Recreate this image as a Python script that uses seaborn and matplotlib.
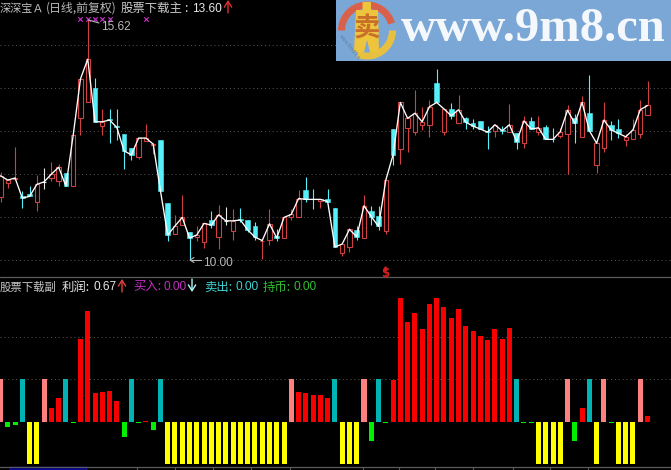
"""
plot.py
Stock chart: daily candles with close line on top, profit histogram below.
"""

import numpy as np
import pandas as pd
import matplotlib
matplotlib.use("Agg")
import matplotlib.pyplot as plt
from matplotlib.patches import Polygon, Rectangle, Wedge
import seaborn as sns

# ── Data: candles ──────────────────────────────────────────────────────────
opens = [11.46, 11.79, 11.88, 11.50, 11.54, 11.35, 11.82, 11.92, 11.85, 12.02,
         11.73, 13.30, 13.69, 14.01, 13.12, 13.28, 13.12, 12.94, 12.60, 12.41,
         12.77, 12.67, 12.80, 11.32, 10.61, 10.81, 10.66, 10.53, 10.42, 10.93,
         10.53, 10.91, 10.67, 10.96, 10.93, 10.79, 10.43, 10.46, 10.56, 10.50,
         10.99, 11.01, 11.63, 11.42, 11.37, 11.42, 11.21, 10.17, 10.30, 10.69,
         10.52, 11.15, 11.03, 10.68, 13.05, 12.58, 13.08, 12.99, 13.15, 13.15,
         14.13, 12.99, 13.52, 13.20, 13.30, 13.19, 13.23, 13.01, 13.00, 13.03,
         12.99, 12.95, 12.73, 13.23, 12.97, 13.09, 12.82, 12.88, 12.94, 13.30,
         12.86, 13.43, 12.21, 12.62, 13.14, 13.05, 12.79, 12.82, 12.93, 13.37]
highs = [12.05, 11.86, 12.63, 11.61, 11.72, 11.97, 12.15, 12.28, 12.24, 12.03,
         12.91, 14.22, 15.62, 14.24, 13.51, 13.51, 13.51, 12.94, 12.60, 12.84,
         13.17, 12.72, 12.80, 11.32, 11.05, 11.51, 10.66, 10.78, 10.85, 11.15,
         11.28, 11.23, 11.19, 11.20, 10.93, 10.89, 10.47, 11.19, 10.71, 10.99,
         11.18, 11.63, 11.93, 11.65, 11.41, 11.65, 11.21, 10.37, 10.75, 10.79,
         11.51, 11.26, 11.26, 11.86, 13.05, 13.67, 13.30, 13.96, 13.57, 13.73,
         14.45, 13.52, 13.65, 13.85, 13.34, 13.28, 13.23, 13.11, 13.17, 13.13,
         13.63, 12.95, 13.36, 13.33, 13.36, 13.15, 13.07, 13.08, 13.61, 13.40,
         13.82, 14.30, 12.72, 13.68, 13.24, 13.29, 12.94, 13.29, 13.72, 14.17]
lows = [11.35, 11.67, 11.86, 11.22, 11.48, 11.14, 11.65, 11.84, 11.73, 11.72,
        11.73, 12.91, 13.69, 13.22, 12.91, 12.72, 12.80, 12.13, 12.33, 12.35,
        12.77, 12.46, 11.61, 10.45, 10.61, 10.81, 10.00, 10.43, 10.28, 10.75,
        10.26, 10.82, 10.47, 10.89, 10.66, 10.47, 10.02, 10.35, 10.43, 10.50,
        10.92, 11.01, 11.36, 11.19, 11.21, 11.36, 10.30, 10.09, 10.19, 10.47,
        10.52, 10.82, 10.70, 10.61, 12.21, 12.24, 12.52, 12.91, 13.03, 12.87,
        13.67, 12.91, 13.29, 13.20, 13.05, 13.05, 13.05, 12.58, 12.86, 12.94,
        12.99, 12.59, 12.60, 13.05, 12.91, 12.81, 12.76, 12.85, 12.00, 12.73,
        12.86, 13.01, 12.02, 12.52, 12.80, 12.85, 12.66, 12.82, 12.85, 13.37]
closes = [11.96, 11.86, 11.91, 11.44, 11.48, 11.76, 11.82, 12.00, 12.16, 11.72,
          12.91, 14.22, 14.68, 13.22, 13.22, 13.26, 13.09, 12.54, 12.45, 12.84,
          12.84, 12.70, 11.61, 10.58, 10.79, 10.99, 10.51, 10.58, 10.85, 10.81,
          11.05, 10.91, 10.91, 10.93, 10.70, 10.53, 10.45, 10.84, 10.51, 10.99,
          11.06, 11.43, 11.41, 11.41, 11.41, 11.36, 10.30, 10.37, 10.71, 10.54,
          11.26, 11.01, 10.78, 11.86, 12.45, 13.67, 13.30, 13.42, 13.22, 13.57,
          13.67, 13.52, 13.36, 13.50, 13.21, 13.12, 13.05, 12.98, 13.15, 13.01,
          13.15, 12.76, 13.24, 13.05, 13.08, 12.81, 12.81, 12.99, 13.49, 13.18,
          13.67, 13.01, 12.72, 13.26, 13.03, 12.95, 12.87, 13.03, 13.50, 13.60]
signal_days = [11, 12, 13, 14, 15, 20]
signal_price = [15.61, 15.61, 15.61, 15.61, 15.61, 15.61]
grid_prices = [10, 11, 12, 13, 14, 15]

# ── Data: profit histogram ─────────────────────────────────────────────────
profit = [5, -0.6, -0.4, 5, -5, -5, 5, 1.6, 2.8, 5,
          -0.1, 9.8, 13.1, 3.4, 3.5, 3.6, 2.4, -1.8, 5, -0.1,
          0.1, -1.0, 5, -5, -5, -5, -5, -5, -5, -5,
          -5, -5, -5, -5, -5, -5, -5, -5, -5, -5,
          5, 3.5, 3.4, 3.2, 3.2, 2.8, 5, -5, -5, -5,
          5, -2.25, 5, -0.1, 4.9, 14.6, 11.8, 12.85, 11, 13.9,
          14.6, 13.55, 12.3, 13.3, 11.3, 10.75, 10.15, 9.7, 11, 9.8,
          11.1, 5, -0.1, -0.1, -5, -5, -5, -5, 5, -2.25,
          1.6, 5, -5, 5, -0.1, -5, -5, -5, 5, 0.67]
profit_kind = ["pink", "green", "green", "teal", "yellow", "yellow", "pink", "red", "red", "teal",
               "green", "red", "red", "red", "red", "red", "red", "green", "teal", "green",
               "red", "green", "teal", "yellow", "yellow", "yellow", "yellow", "yellow", "yellow", "yellow",
               "yellow", "yellow", "yellow", "yellow", "yellow", "yellow", "yellow", "yellow", "yellow", "yellow",
               "pink", "red", "red", "red", "red", "red", "teal", "yellow", "yellow", "yellow",
               "pink", "green", "teal", "green", "red", "red", "red", "red", "red", "red",
               "red", "red", "red", "red", "red", "red", "red", "red", "red", "red",
               "red", "teal", "green", "green", "yellow", "yellow", "yellow", "yellow", "pink", "green",
               "red", "teal", "yellow", "pink", "green", "yellow", "yellow", "yellow", "pink", "red"]
grid_profit = [5, 10]

PALETTE = {
    "pink": "#FF8080",
    "green": "#00F000",
    "teal": "#00B4B4",
    "yellow": "#FFFF00",
    "red": "#F80000",
}
UP = "#D04040"
DOWN = "#55F0FA"
GREY = "#B8B8B8"
CJK = ["Noto Sans CJK SC", "DejaVu Sans"]

W, H = 671, 470
sns.set_theme(style="dark", rc={
    "figure.facecolor": "black",
    "axes.facecolor": "black",
    "savefig.facecolor": "black",
})
plt.rcParams["font.family"] = CJK

days = np.arange(len(closes))
candles = pd.DataFrame({"day": days, "open": opens, "high": highs,
                        "low": lows, "close": closes})
hist = pd.DataFrame({"day": days, "profit": profit, "kind": profit_kind})

fig = plt.figure(figsize=(W / 100, H / 100), dpi=100)
ax = fig.add_axes([0, (H - 277) / H, 1, 277 / H])
ax2 = fig.add_axes([0, (H - 467) / H, 1, 190 / H])
over = fig.add_axes([0, 0, 1, 1], facecolor="none")

# ── Candles ────────────────────────────────────────────────────────────────
for val in grid_prices:
    ax.axhline(val, color="#585858", lw=0.7, ls=(0, (1, 3)), zorder=1)

rising = candles[candles["close"] > candles["open"]]
falling = candles[candles["close"] < candles["open"]]
flat = candles[candles["close"] == candles["open"]]

ax.vlines(rising["day"], rising["low"], rising["high"], color=UP, lw=0.8, zorder=2)
ax.vlines(falling["day"], falling["low"], falling["high"], color=DOWN, lw=0.8, zorder=2)
ax.vlines(flat["day"], flat["low"], flat["high"], color="#E8E8E8", lw=0.8, zorder=2)
ax.bar(rising["day"], rising["close"] - rising["open"], bottom=rising["open"],
       width=0.6, facecolor="black", edgecolor=UP, linewidth=0.8, zorder=3)
ax.bar(falling["day"], falling["close"] - falling["open"], bottom=falling["open"],
       width=0.66, facecolor=DOWN, edgecolor=DOWN, linewidth=0.4, zorder=3)
ax.hlines(flat["close"], flat["day"] - 0.3, flat["day"] + 0.3, color="#E8E8E8", lw=0.8, zorder=3)

sns.lineplot(data=candles, x="day", y="close", color="white", lw=0.95,
             errorbar=None, ax=ax, zorder=4)
sns.scatterplot(x=signal_days, y=signal_price, marker="x", s=10, color="#D030D0",
                linewidth=0.8, ax=ax, zorder=5)

# ── Histogram ──────────────────────────────────────────────────────────────
for val in grid_profit:
    ax2.axhline(val, color="#585858", lw=0.7, ls=(0, (1, 3)), zorder=0)
sns.barplot(data=hist, x="day", y="profit", hue="kind", palette=PALETTE,
            native_scale=True, dodge=False, width=0.69, linewidth=0, saturation=1,
            errorbar=None, legend=False, ax=ax2, zorder=2)

for a in (ax, ax2):
    a.set_xlim(-0.07, 92.23)
    a.set_xlabel("")
    a.set_ylabel("")
    a.set_xticks([])
    a.set_yticks([])
    a.grid(False)
    for s in a.spines.values():
        s.set_visible(False)
ax.set_ylim(9.6, 16.06)
ax2.set_ylim(-5.36, 17.12)

# ── Overlay in pixel coordinates: texts, arrows, frame lines, banner ───────
over.set_xlim(0, W)
over.set_ylim(H, 0)
over.axis("off")


def label(x, y, s, color="#C8C8C8", size=8.9, **kw):
    kw.setdefault("family", CJK)
    over.text(x, y, s, color=color, fontsize=size, va="baseline", ha="left", **kw)


def number(x, y, s, color):
    label(x, y, s, color=color, size=8.6, family="Liberation Sans")


def arrow(x, y0, y1, color):
    over.annotate("", xy=(x, y1), xytext=(x, y0),
                  arrowprops=dict(arrowstyle="->,head_width=0.22,head_length=0.35",
                                  color=color, lw=1.0, shrinkA=0, shrinkB=0))


# header of the price panel
label(0, 12, "深深宝Ａ", color="#C0C0C0", size=8.0)
label(46, 12, "(日线,前复权)", color="#B8B8B8", size=8.6)
label(121, 12, "股票下载主", color="#C8C8C8")
label(184, 12, ":", color="#E8E8E8")
number(192, 12, "13.60", "#E8E8E8")
arrow(228, 13, 0, "#E03030")

# header of the histogram panel
label(0, 290.5, "股票下载副", color="#C8C8C8", size=8.2)
label(62, 290.5, "利润:", color="#E8E8E8")
number(93, 290.5, "0.67", "#E8E8E8")
arrow(122, 292, 279, "#E04040")
label(133, 290.5, "买入:", color="#C030C0")
number(164, 290.5, "0.00", "#C030C0")
arrow(192, 279, 292, "#B0F8F8")
label(204, 290.5, "卖出:", color="#40D0D0")
number(235, 290.5, "0.00", "#40D0D0")
label(263, 290.5, "持币:", color="#30C030")
number(294, 290.5, "0.00", "#30C030")

# high / low callouts
over.plot([88.5, 99], [20, 23], color=GREY, lw=0.8)
number(101, 30, "15.62", GREY)
over.plot([190, 201], [260, 260], color=GREY, lw=0.8)
over.plot([194, 190, 194], [257.5, 260, 262.5], color=GREY, lw=0.8)
number(203, 266, "10.00", GREY)

# buy marker under candle
over.text(385, 273, "$", color="#D02020", fontsize=8.5, fontweight="bold",
          ha="center", va="center", family="DejaVu Sans")
over.plot([385], [267.5], marker="^", ms=2.5, color="#D02020", lw=0)

# frame lines and the date box at the foot
over.plot([0, W], [277.3, 277.3], color="#5A5A5A", lw=0.9)
over.plot([0, W], [466.7, 466.7], color="#5A5A5A", lw=0.9)
over.vlines([137, 175, 213, 251, 290, 363, 399, 435, 473, 513, 550, 588],
            467, 470, color="#5A5A5A", lw=0.8)
over.add_patch(Rectangle((10, 467), 77, 3, facecolor="#000080", edgecolor="#3030C0", lw=0.3))

# watermark banner
over.add_patch(Rectangle((336, 0), 335, 60.5, facecolor="#7BA7D6", edgecolor="none", zorder=6))
over.add_patch(Wedge((367, 30.5), 29, 180, 344, width=7, facecolor="#D9604A",
                     edgecolor="none", zorder=7))
over.add_patch(Wedge((367, 30.5), 29, 0, 112, width=7, facecolor="#E8C040",
                     edgecolor="none", zorder=7))
over.add_patch(Polygon([(362.5, 2), (371, 2), (371, 10), (378, 10), (379, 52),
                        (370, 52), (367, 40), (364, 52), (354, 52), (356, 10), (362.5, 10)],
                       facecolor="#EDC43C", edgecolor="none", zorder=7))
over.text(367, 29, "卖", color="#C8702A", fontsize=19, fontweight="bold", ha="center",
          va="center", family=CJK, zorder=8)
over.text(349, 47, "www.9m8.cn", color="#5E7FA8", fontsize=3.4, rotation=-52, ha="center",
          va="center", family="DejaVu Sans", zorder=8)
over.text(401, 41, "www.9m8.cn", color="#F4F7FB", fontsize=35, fontweight="bold", ha="left",
          va="baseline", family="Liberation Serif", zorder=8)

fig.savefig("out.png", dpi=100, facecolor="black")
plt.close(fig)
